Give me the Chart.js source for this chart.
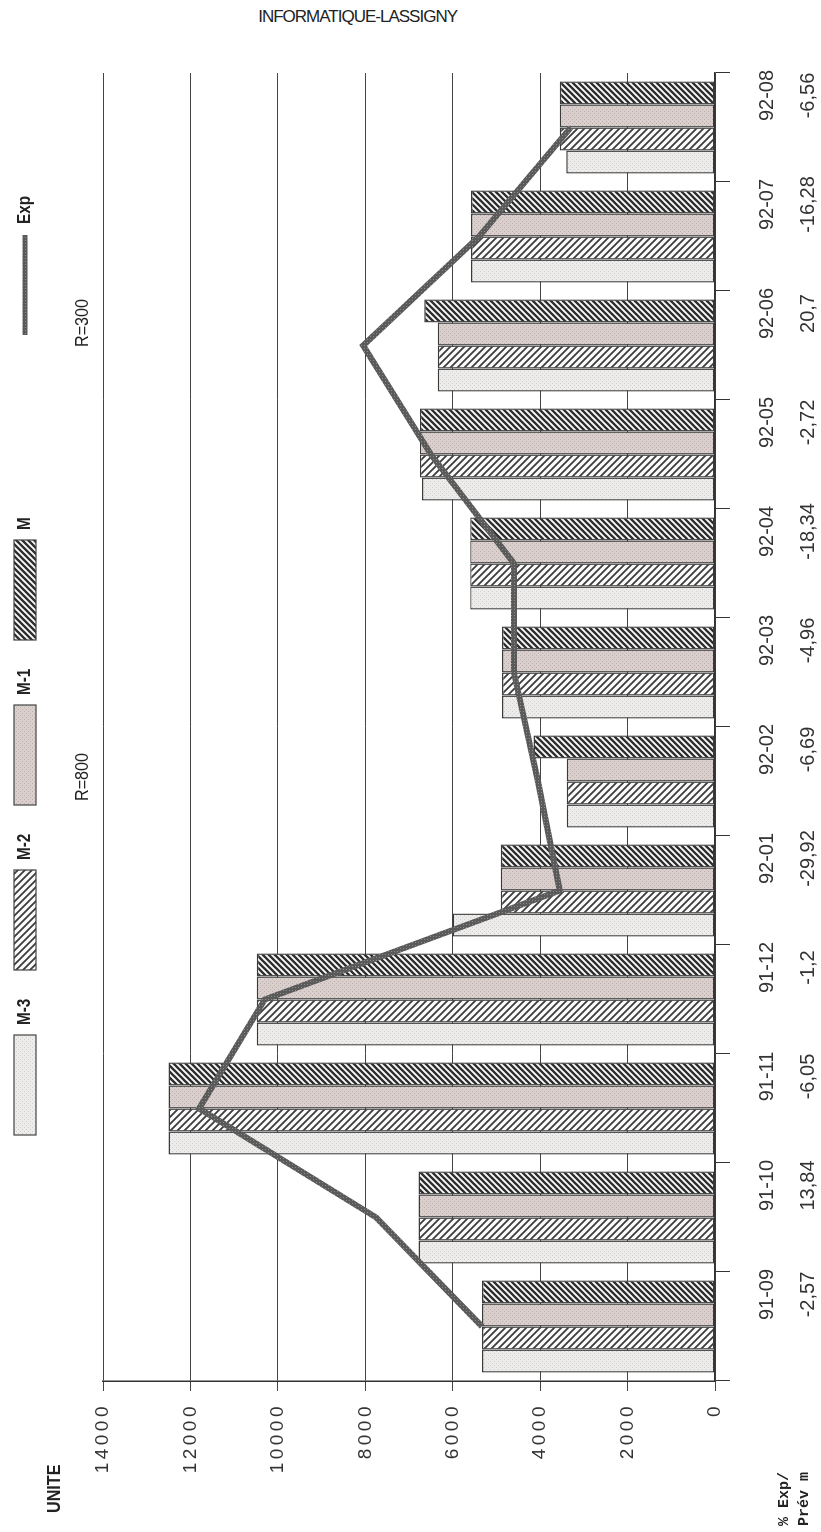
<!DOCTYPE html>
<html><head><meta charset="utf-8">
<script src="https://cdn.jsdelivr.net/npm/chart.js@4/dist/chart.umd.min.js"></script>
<style>
html,body{margin:0;padding:0;background:#fff;width:821px;height:1532px;overflow:hidden;}
#rot{position:absolute;left:0;top:0;width:1532px;height:821px;transform-origin:0 0;transform:translate(0,1532px) rotate(-90deg);}
#title{position:absolute;right:364px;top:7px;font:17px 'Liberation Sans Narrow','Liberation Sans',Arial,sans-serif;letter-spacing:-1px;color:#222;white-space:nowrap;}
</style></head><body>
<div id="title">INFORMATIQUE-LASSIGNY</div>
<div id="rot"><canvas id="c" width="1532" height="821"></canvas></div>
<script>
// ---- data ----
const categories = ['91-09','91-10','91-11','91-12','92-01','92-02','92-03','92-04','92-05','92-06','92-07','92-08'];
const pctExpPrev = ['-2,57','13,84','-6,05','-1,2','-29,92','-6,69','-4,96','-18,34','-2,72','20,7','-16,28','-6,56'];
const seriesM3 = [5330,6780,12500,10480,6000,3390,4870,5600,6700,6340,5580,3400];
const seriesM2 = [5330,6780,12500,10480,4900,3390,4870,5600,6750,6340,5580,3550];
const seriesM1 = [5330,6780,12500,10480,4900,3390,4870,5600,6750,6340,5580,3550];
const seriesM  = [5330,6780,12500,10480,4900,4150,4870,5600,6750,6650,5580,3550];
const seriesExp = [5330,7750,11800,10300,3550,4050,4600,4600,6500,8050,5400,3300];
const valueTicks = [0,2000,4000,6000,8000,10000,12000,14000];
const seriesNames = ['M-3','M-2','M-1','M','Exp'];
const annotations = ['R=800','R=300'];

// ---- patterns ----
function makePattern(w,h,draw){const c=document.createElement('canvas');c.width=w;c.height=h;const x=c.getContext('2d');draw(x,w,h);return x.createPattern(c,'repeat');}
const patM3 = makePattern(4,4,x=>{x.fillStyle='#edecea';x.fillRect(0,0,4,4);x.fillStyle='#d2d0cf';x.fillRect(0,0,1,1);x.fillRect(2,2,1,1);});
const patM1 = makePattern(4,4,x=>{x.fillStyle='#dacfcc';x.fillRect(0,0,4,4);x.fillStyle='#bab1ae';x.fillRect(0,0,1,1);x.fillRect(2,2,1,1);});
function hatch(s,lw,dir,col){return makePattern(s,s,x=>{x.fillStyle='#fbfbfb';x.fillRect(0,0,s,s);x.strokeStyle=col;x.lineWidth=lw;x.beginPath();
  for(let k=-1;k<=1;k++){ if(dir==='/'){x.moveTo(k*s-1,s+1);x.lineTo(k*s+s+1,-1);} else {x.moveTo(k*s-1,-1);x.lineTo(k*s+s+1,s+1);} }
  x.stroke();});}
const patM2 = hatch(7,1.8,'\\','#3c3c3c');   // shows as "/" once the page is rotated
const patM  = hatch(6,2.3,'/','#2e2e2e');    // shows as "\" once the page is rotated
const patExp = makePattern(3,3,x=>{x.fillStyle='#5a5a5a';x.fillRect(0,0,3,3);x.fillStyle='#8c8c8c';x.fillRect(1,1,1,1);});

const fills = [patM3, patM2, patM1, patM];
const seriesData = [seriesM3, seriesM2, seriesM1, seriesM];

const narrow = "'Liberation Sans Narrow','Liberation Sans',Arial,sans-serif";

function condensedText(ctx, text, x, y, sx){ ctx.save(); ctx.translate(x, y); ctx.scale(sx, 1); ctx.fillText(text, 0, 0); ctx.restore(); }

const annot = {
  id:'annot',
  beforeDraw(chart){
    const ys = chart.scales.y;
    if (ys && !ys._ls){ const orig = ys.drawLabels.bind(ys); ys.drawLabels = function(a){ const c=this.ctx; const p=c.letterSpacing; c.letterSpacing='3.5px'; orig(a); c.letterSpacing=p||'0px'; }; ys._ls = true; }
  },
  afterDraw(chart){
    const ctx = chart.ctx;
    ctx.save();
    ctx.fillStyle = '#222';
    ctx.textBaseline = 'middle';
    // legend
    let X = 397; const Y = 25;
    for (let i=0;i<4;i++){
      ctx.fillStyle = fills[i]; ctx.fillRect(X, Y-11, 100, 22);
      ctx.strokeStyle = '#444'; ctx.lineWidth = 1.2; ctx.strokeRect(X, Y-11, 100, 22);
      ctx.fillStyle = '#222'; ctx.font = 'bold 18px '+narrow; ctx.textAlign='left';
      condensedText(ctx, seriesNames[i], X+110, Y, 0.85);
      X += 165;
    }
    ctx.strokeStyle = patExp; ctx.lineWidth = 5;
    ctx.beginPath(); ctx.moveTo(1197, Y); ctx.lineTo(1297, Y); ctx.stroke();
    ctx.fillStyle = '#222'; ctx.font = 'bold 18px '+narrow; condensedText(ctx, seriesNames[4], 1308, Y, 0.85);
    // annotations
    ctx.font = '19px '+narrow; ctx.textAlign='center';
    condensedText(ctx, annotations[0], 755, 83, 0.85);
    condensedText(ctx, annotations[1], 1209, 83, 0.85);
    // unit
    ctx.font = 'bold 19px '+narrow; ctx.textAlign='left';
    condensedText(ctx, 'UNITE', 19, 55, 0.85);
    // row header
    ctx.font = 'bold 15px "Liberation Mono", monospace';
    ctx.fillText('% Exp/', 6, 784);
    ctx.fillText('Prév m', 6, 804);
    ctx.restore();
  }
};

const datasets = [{
  type:'line', label:'Exp', data: seriesExp, borderColor: patExp, borderWidth: 6,
  pointRadius: 0, tension: 0, fill:false, order: 0
}];
for (let i=0;i<4;i++){
  datasets.push({ type:'bar', label: seriesNames[i], data: seriesData[i], backgroundColor: fills[i],
    borderColor:'#3a3a3a', borderWidth:1.4, borderSkipped:false, order:1 });
}

new Chart(document.getElementById('c'), {
  type:'bar',
  data:{ labels: categories.map((c,i)=>[c, pctExpPrev[i]]), datasets },
  options:{
    responsive:false, animation:false, devicePixelRatio:1,
    layout:{ padding:{ left:0, top:103, right:73, bottom:0 } },
    plugins:{ legend:{display:false}, tooltip:{enabled:false} },
    datasets:{ bar:{ categoryPercentage:0.845, barPercentage:1.0 } },
    scales:{
      x:{ offset:true,
          grid:{ display:true, drawOnChartArea:false, drawTicks:true, tickLength:15, color:'#333', lineWidth:1, offset:true },
          border:{ display:true, color:'#333', width:1.5 },
          ticks:{ font:{ family:narrow, size:20, lineHeight:2.05 }, color:'#333', maxRotation:0, minRotation:0, autoSkip:false, padding:17, labelOffset:32 },
          afterFit:(s)=>{ s.height = 106; } },
      y:{ min:0, max:14000,
          afterBuildTicks:(s)=>{ s.ticks = valueTicks.map(v=>({value:v})); },
          ticks:{ font:{ family:"'Liberation Sans', Arial, sans-serif", size:19 }, color:'#333', padding:12, callback:(v)=>String(v) },
          grid:{ color:'#444', lineWidth:1, tickLength:10 },
          border:{ display:true, color:'#333', width:1.5 },
          afterFit:(s)=>{ s.width = 151; } }
    }
  },
  plugins:[annot]
});
</script>
</body></html>
